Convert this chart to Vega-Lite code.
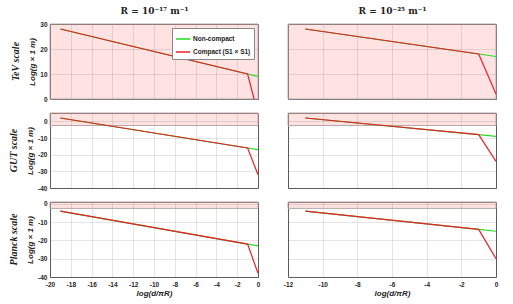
{
  "$schema": "https://vega.github.io/schema/vega-lite/v6.json",
  "padding": {"left": 8, "top": 5, "right": 5, "bottom": 3},
  "background": "white",
  "datasets": {
    "lines": [
      {"p": "L1", "s": "Non-compact", "x": -19, "y": 28}, {"p": "L1", "s": "Non-compact", "x": -1, "y": 10}, {"p": "L1", "s": "Non-compact", "x": 0, "y": 9},
      {"p": "L1", "s": "Compact", "x": -19, "y": 28}, {"p": "L1", "s": "Compact", "x": -1, "y": 10}, {"p": "L1", "s": "Compact", "x": 0, "y": -6},
      {"p": "R1", "s": "Non-compact", "x": -11, "y": 28}, {"p": "R1", "s": "Non-compact", "x": -1, "y": 18}, {"p": "R1", "s": "Non-compact", "x": 0, "y": 17},
      {"p": "R1", "s": "Compact", "x": -11, "y": 28}, {"p": "R1", "s": "Compact", "x": -1, "y": 18}, {"p": "R1", "s": "Compact", "x": 0, "y": 2},
      {"p": "L2", "s": "Non-compact", "x": -19, "y": 2}, {"p": "L2", "s": "Non-compact", "x": -1, "y": -16}, {"p": "L2", "s": "Non-compact", "x": 0, "y": -17},
      {"p": "L2", "s": "Compact", "x": -19, "y": 2}, {"p": "L2", "s": "Compact", "x": -1, "y": -16}, {"p": "L2", "s": "Compact", "x": 0, "y": -32},
      {"p": "R2", "s": "Non-compact", "x": -11, "y": 2}, {"p": "R2", "s": "Non-compact", "x": -1, "y": -8}, {"p": "R2", "s": "Non-compact", "x": 0, "y": -9},
      {"p": "R2", "s": "Compact", "x": -11, "y": 2}, {"p": "R2", "s": "Compact", "x": -1, "y": -8}, {"p": "R2", "s": "Compact", "x": 0, "y": -24},
      {"p": "L3", "s": "Non-compact", "x": -19, "y": -4}, {"p": "L3", "s": "Non-compact", "x": -1, "y": -22}, {"p": "L3", "s": "Non-compact", "x": 0, "y": -23},
      {"p": "L3", "s": "Compact", "x": -19, "y": -4}, {"p": "L3", "s": "Compact", "x": -1, "y": -22}, {"p": "L3", "s": "Compact", "x": 0, "y": -38},
      {"p": "R3", "s": "Non-compact", "x": -11, "y": -4}, {"p": "R3", "s": "Non-compact", "x": -1, "y": -14}, {"p": "R3", "s": "Non-compact", "x": 0, "y": -15},
      {"p": "R3", "s": "Compact", "x": -11, "y": -4}, {"p": "R3", "s": "Compact", "x": -1, "y": -14}, {"p": "R3", "s": "Compact", "x": 0, "y": -30}
    ],
    "bands": [
      {"p": "L1", "x": -20, "x2": 0, "y": 0, "y2": 30},
      {"p": "R1", "x": -12, "x2": 0, "y": 0, "y2": 30},
      {"p": "L2", "x": -20, "x2": 0, "y": -2.5, "y2": 5},
      {"p": "R2", "x": -12, "x2": 0, "y": -2.5, "y2": 5},
      {"p": "L3", "x": -20, "x2": 0, "y": -2.5, "y2": 1},
      {"p": "R3", "x": -12, "x2": 0, "y": -2.5, "y2": 1}
    ]
  },
  "columns": 2,
  "spacing": {"row": 14, "column": 30},
  "bounds": "flush",
  "resolve": {"scale": {"color": "independent"}, "legend": {"color": "independent"}},
  "concat": [
    {
      "width": 208, "height": 75,
      "title": {"text": "TeV scale", "orient": "left", "font": "Liberation Serif", "fontStyle": "italic", "fontWeight": "bold", "fontSize": 10, "offset": 8, "color": "#222"},
      "resolve": {"axis": {"x": "independent"}},
      "encoding": {
        "x": {"field": "x", "type": "quantitative", "scale": {"domain": [-20, 0], "nice": false, "zero": false}, "axis": {"values": [-20, -18, -16, -14, -12, -10, -8, -6, -4, -2, 0], "labels": false, "title": null, "grid": true}},
        "y": {"field": "y", "type": "quantitative", "scale": {"domain": [0, 30], "nice": false, "zero": false}, "axis": {"values": [0, 10, 20, 30], "grid": true, "title": "Log(g × 1 m)"}}
      },
      "layer": [
        {
          "data": {"name": "bands"}, "transform": [{"filter": "datum.p === 'L1'"}],
          "mark": {"type": "rect", "fill": "#ff0000", "fillOpacity": 0.11, "stroke": "#b8a8a8", "strokeWidth": 1},
          "encoding": {"x2": {"field": "x2"}, "y2": {"field": "y2"}}
        },
        {
          "data": {"name": "lines"}, "transform": [{"filter": "datum.p === 'L1' && datum.s === 'Non-compact'"}],
          "mark": {"type": "line", "strokeWidth": 1.2, "clip": true},
          "encoding": {
            "x": {"field": "x", "type": "quantitative", "axis": {"orient": "top", "title": "R = 10⁻¹⁷ m⁻¹", "labels": false, "ticks": false, "domain": false, "grid": false, "titleFont": "DejaVu Serif", "titleFontStyle": "normal", "titleFontWeight": "bold", "titleFontSize": 9, "titlePadding": 9, "titleColor": "#222"}},
            "color": {"datum": "Non-compact", "type": "nominal", "scale": {"domain": ["Non-compact", "Compact (S1 × S1)"], "range": ["#22dd22", "#e8202a"]}, "legend": {"orient": "top-right", "title": null, "symbolType": "stroke", "symbolSize": 200, "symbolStrokeWidth": 1.5, "labelFont": "Liberation Sans", "labelFontWeight": "bold", "labelFontSize": 6.5, "labelColor": "#222", "fillColor": "white", "strokeColor": "#888", "padding": 3, "offset": 4, "rowPadding": 1, "labelOffset": 2}}
          }
        },
        {
          "data": {"name": "lines"}, "transform": [{"filter": "datum.p === 'L1' && datum.s === 'Compact'"}],
          "mark": {"type": "line", "strokeWidth": 1.2, "clip": true},
          "encoding": {
            "x": {"field": "x", "type": "quantitative", "axis": null},
            "color": {"datum": "Compact (S1 × S1)", "type": "nominal", "scale": {"domain": ["Non-compact", "Compact (S1 × S1)"], "range": ["#22dd22", "#e8202a"]}, "legend": {"orient": "top-right", "title": null, "symbolType": "stroke", "symbolSize": 200, "symbolStrokeWidth": 1.5, "labelFont": "Liberation Sans", "labelFontWeight": "bold", "labelFontSize": 6.5, "labelColor": "#222", "fillColor": "white", "strokeColor": "#888", "padding": 3, "offset": 4, "rowPadding": 1, "labelOffset": 2}}
          }
        }
      ]
    },
    {
      "width": 208, "height": 75,
      "resolve": {"axis": {"x": "independent"}},
      "encoding": {
        "x": {"field": "x", "type": "quantitative", "scale": {"domain": [-12, 0], "nice": false, "zero": false}, "axis": {"values": [-12, -10, -8, -6, -4, -2, 0], "labels": false, "title": null, "grid": true}},
        "y": {"field": "y", "type": "quantitative", "scale": {"domain": [0, 30], "nice": false, "zero": false}, "axis": {"values": [0, 10, 20, 30], "grid": true, "labels": false, "title": null}}
      },
      "layer": [
        {
          "data": {"name": "bands"}, "transform": [{"filter": "datum.p === 'R1'"}],
          "mark": {"type": "rect", "fill": "#ff0000", "fillOpacity": 0.11, "stroke": "#b8a8a8", "strokeWidth": 1},
          "encoding": {"x2": {"field": "x2"}, "y2": {"field": "y2"}}
        },
        {
          "data": {"name": "lines"}, "transform": [{"filter": "datum.p === 'R1' && datum.s === 'Non-compact'"}],
          "mark": {"type": "line", "strokeWidth": 1.2, "clip": true, "color": "#22dd22"},
          "encoding": {
            "x": {"field": "x", "type": "quantitative", "axis": {"orient": "top", "title": "R = 10⁻²⁵ m⁻¹", "labels": false, "ticks": false, "domain": false, "grid": false, "titleFont": "DejaVu Serif", "titleFontStyle": "normal", "titleFontWeight": "bold", "titleFontSize": 9, "titlePadding": 9, "titleColor": "#222"}}
          }
        },
        {
          "data": {"name": "lines"}, "transform": [{"filter": "datum.p === 'R1' && datum.s === 'Compact'"}],
          "mark": {"type": "line", "strokeWidth": 1.2, "clip": true, "color": "#e8202a"},
          "encoding": {"x": {"field": "x", "type": "quantitative", "axis": null}}
        }
      ]
    },
    {
      "width": 208, "height": 75,
      "title": {"text": "GUT scale", "orient": "left", "font": "Liberation Serif", "fontStyle": "italic", "fontWeight": "bold", "fontSize": 10, "offset": 8, "color": "#222"},
      "encoding": {
        "x": {"field": "x", "type": "quantitative", "scale": {"domain": [-20, 0], "nice": false, "zero": false}, "axis": {"values": [-20, -18, -16, -14, -12, -10, -8, -6, -4, -2, 0], "labels": false, "title": null, "grid": true}},
        "y": {"field": "y", "type": "quantitative", "scale": {"domain": [-40, 5], "nice": false, "zero": false}, "axis": {"values": [-40, -30, -20, -10, 0], "grid": true, "title": "Log(g × 1 m)"}}
      },
      "layer": [
        {
          "data": {"name": "bands"}, "transform": [{"filter": "datum.p === 'L2'"}],
          "mark": {"type": "rect", "fill": "#ff0000", "fillOpacity": 0.11, "stroke": "#b8a8a8", "strokeWidth": 1},
          "encoding": {"x2": {"field": "x2"}, "y2": {"field": "y2"}}
        },
        {
          "data": {"name": "lines"}, "transform": [{"filter": "datum.p === 'L2' && datum.s === 'Non-compact'"}],
          "mark": {"type": "line", "strokeWidth": 1.2, "clip": true, "color": "#22dd22"}
        },
        {
          "data": {"name": "lines"}, "transform": [{"filter": "datum.p === 'L2' && datum.s === 'Compact'"}],
          "mark": {"type": "line", "strokeWidth": 1.2, "clip": true, "color": "#e8202a"}
        }
      ]
    },
    {
      "width": 208, "height": 75,
      "encoding": {
        "x": {"field": "x", "type": "quantitative", "scale": {"domain": [-12, 0], "nice": false, "zero": false}, "axis": {"values": [-12, -10, -8, -6, -4, -2, 0], "labels": false, "title": null, "grid": true}},
        "y": {"field": "y", "type": "quantitative", "scale": {"domain": [-40, 5], "nice": false, "zero": false}, "axis": {"values": [-40, -30, -20, -10, 0], "grid": true, "labels": false, "title": null}}
      },
      "layer": [
        {
          "data": {"name": "bands"}, "transform": [{"filter": "datum.p === 'R2'"}],
          "mark": {"type": "rect", "fill": "#ff0000", "fillOpacity": 0.11, "stroke": "#b8a8a8", "strokeWidth": 1},
          "encoding": {"x2": {"field": "x2"}, "y2": {"field": "y2"}}
        },
        {
          "data": {"name": "lines"}, "transform": [{"filter": "datum.p === 'R2' && datum.s === 'Non-compact'"}],
          "mark": {"type": "line", "strokeWidth": 1.2, "clip": true, "color": "#22dd22"}
        },
        {
          "data": {"name": "lines"}, "transform": [{"filter": "datum.p === 'R2' && datum.s === 'Compact'"}],
          "mark": {"type": "line", "strokeWidth": 1.2, "clip": true, "color": "#e8202a"}
        }
      ]
    },
    {
      "width": 208, "height": 75,
      "title": {"text": "Planck scale", "orient": "left", "font": "Liberation Serif", "fontStyle": "italic", "fontWeight": "bold", "fontSize": 10, "offset": 8, "color": "#222"},
      "encoding": {
        "x": {"field": "x", "type": "quantitative", "scale": {"domain": [-20, 0], "nice": false, "zero": false}, "axis": {"values": [-20, -18, -16, -14, -12, -10, -8, -6, -4, -2, 0], "grid": true, "title": "log(d/πR)"}},
        "y": {"field": "y", "type": "quantitative", "scale": {"domain": [-40, 1], "nice": false, "zero": false}, "axis": {"values": [-40, -30, -20, -10, 0], "grid": true, "title": "Log(g × 1 m)"}}
      },
      "layer": [
        {
          "data": {"name": "bands"}, "transform": [{"filter": "datum.p === 'L3'"}],
          "mark": {"type": "rect", "fill": "#ff0000", "fillOpacity": 0.11, "stroke": "#b8a8a8", "strokeWidth": 1},
          "encoding": {"x2": {"field": "x2"}, "y2": {"field": "y2"}}
        },
        {
          "data": {"name": "lines"}, "transform": [{"filter": "datum.p === 'L3' && datum.s === 'Non-compact'"}],
          "mark": {"type": "line", "strokeWidth": 1.2, "clip": true, "color": "#22dd22"}
        },
        {
          "data": {"name": "lines"}, "transform": [{"filter": "datum.p === 'L3' && datum.s === 'Compact'"}],
          "mark": {"type": "line", "strokeWidth": 1.2, "clip": true, "color": "#e8202a"}
        }
      ]
    },
    {
      "width": 208, "height": 75,
      "encoding": {
        "x": {"field": "x", "type": "quantitative", "scale": {"domain": [-12, 0], "nice": false, "zero": false}, "axis": {"values": [-12, -10, -8, -6, -4, -2, 0], "grid": true, "title": "log(d/πR)"}},
        "y": {"field": "y", "type": "quantitative", "scale": {"domain": [-40, 1], "nice": false, "zero": false}, "axis": {"values": [-40, -30, -20, -10, 0], "grid": true, "labels": false, "title": null}}
      },
      "layer": [
        {
          "data": {"name": "bands"}, "transform": [{"filter": "datum.p === 'R3'"}],
          "mark": {"type": "rect", "fill": "#ff0000", "fillOpacity": 0.11, "stroke": "#b8a8a8", "strokeWidth": 1},
          "encoding": {"x2": {"field": "x2"}, "y2": {"field": "y2"}}
        },
        {
          "data": {"name": "lines"}, "transform": [{"filter": "datum.p === 'R3' && datum.s === 'Non-compact'"}],
          "mark": {"type": "line", "strokeWidth": 1.2, "clip": true, "color": "#22dd22"}
        },
        {
          "data": {"name": "lines"}, "transform": [{"filter": "datum.p === 'R3' && datum.s === 'Compact'"}],
          "mark": {"type": "line", "strokeWidth": 1.2, "clip": true, "color": "#e8202a"}
        }
      ]
    }
  ],
  "config": {
    "view": {"stroke": "#666", "strokeWidth": 1},
    "axis": {
      "labelFont": "Liberation Sans", "labelFontWeight": "bold", "labelFontSize": 6.5, "labelColor": "#262626",
      "labelOverlap": false, "labelFlush": false,
      "titleFont": "Liberation Sans", "titleFontWeight": "bold", "titleFontStyle": "italic", "titleFontSize": 8, "titleColor": "#262626",
      "gridColor": "#000", "gridOpacity": 0.1, "gridWidth": 1,
      "ticks": false, "domain": false, "labelPadding": 3, "titlePadding": 3
    },
    "axisX": {"labelPadding": 4, "titlePadding": 2},
    "locale": {"number": {"decimal": ".", "thousands": ",", "grouping": [3], "currency": ["$", ""], "minus": "-"}}
  }
}
